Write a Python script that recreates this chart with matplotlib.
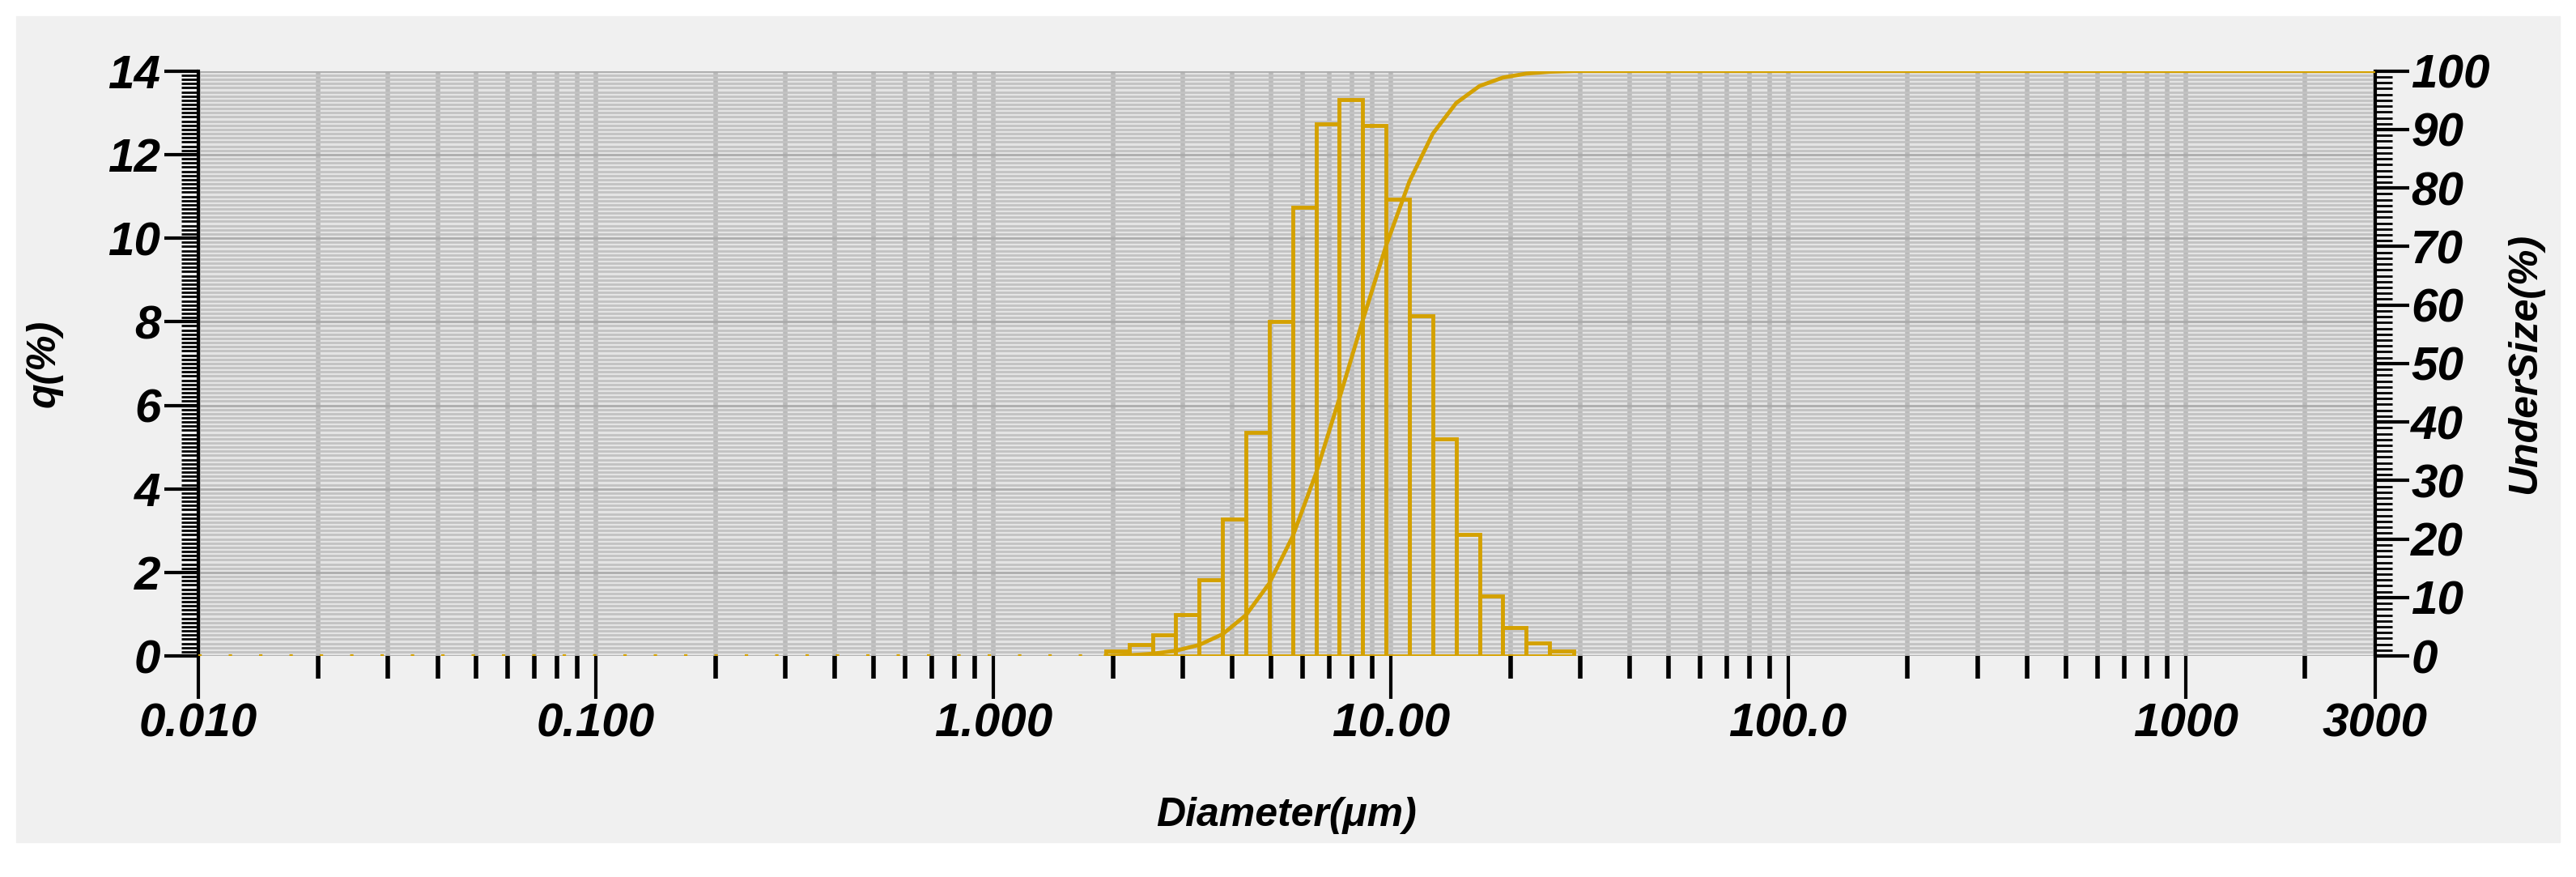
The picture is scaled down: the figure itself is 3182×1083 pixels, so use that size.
import numpy as np
import matplotlib.pyplot as plt
from matplotlib.patches import Rectangle
from matplotlib.ticker import FixedLocator, LogLocator, MultipleLocator, NullFormatter

plt.rcParams['font.family'] = ['Liberation Sans', 'DejaVu Sans']

# bin edges (um) and frequency q (%)
edges = [1.92, 2.20, 2.52, 2.88, 3.30, 3.78, 4.33, 4.95, 5.67, 6.49, 7.43,
         8.51, 9.74, 11.15, 12.77, 14.62, 16.74, 19.17, 21.95, 25.13, 28.9]
q = [0.12, 0.27, 0.51, 0.99, 1.83, 3.28, 5.36, 8.00, 10.73, 12.74, 13.31,
     12.70, 10.94, 8.14, 5.20, 2.90, 1.44, 0.68, 0.31, 0.12]
xticks = [0.01, 0.1, 1, 10, 100, 1000, 3000]
xlabels = ['0.010', '0.100', '1.000', '10.00', '100.0', '1000', '3000']

col = '#D4A100'
cum = np.concatenate([[0], np.cumsum(q)])
cum = cum / cum[-1] * 100

fig = plt.figure(figsize=(31.82, 10.83), dpi=100)
fig.patches.append(Rectangle((20 / 3182, 43 / 1083), 3142 / 3182, 1020 / 1083,
                             transform=fig.transFigure, color='#f0f0f0', zorder=-10))
ax = fig.add_axes([0.077, 0.252, 0.845, 0.667])
ax.set_facecolor('#e4e4e4')
ax.set_xscale('log')
ax.set_xlim(0.01, 3000)
ax.set_ylim(0, 14)

ax.yaxis.set_minor_locator(MultipleLocator(0.1))
ax.grid(True, which='minor', axis='y', color='#c2c2c2', lw=2)
ax.grid(True, which='major', axis='y', color='#acacac', lw=2)
ax.xaxis.set_minor_locator(LogLocator(base=10, subs=np.arange(2, 10)))
ax.grid(True, which='both', axis='x', color='#bababa', lw=4)
ax.set_axisbelow(True)

for i in range(len(q)):
    ax.add_patch(Rectangle((edges[i], 0), edges[i + 1] - edges[i], q[i],
                           fill=False, edgecolor=col, lw=3.5, zorder=3))
ax.plot([0.01, edges[0]], [0, 0], color=col, lw=3, ls=(0, (1, 8)), zorder=3)

ax.xaxis.set_major_locator(FixedLocator(xticks))
ax.set_xticklabels(xlabels)
ax.xaxis.set_minor_formatter(NullFormatter())
ax.set_yticks(range(0, 15, 2))
for s in ax.spines.values():
    s.set_visible(False)
ax.spines['left'].set_visible(True)
ax.spines['left'].set_linewidth(3)
ax.tick_params(axis='both', which='major', labelsize=42, width=3, length=30, direction='out')
ax.tick_params(axis='y', which='minor', width=2, length=15, direction='out')
ax.tick_params(axis='x', which='minor', width=4, length=20, direction='out')
ax.tick_params(axis='x', which='major', length=38)
for t in ax.get_xticklabels() + ax.get_yticklabels():
    t.set_fontweight('bold')
    t.set_fontstyle('italic')
ax.set_xlabel('Diameter(μm)', fontsize=36, fontweight='bold', fontstyle='italic', labelpad=45)
ax.set_ylabel('q(%)', fontsize=36, fontweight='bold', fontstyle='italic', labelpad=40)

ax2 = ax.twinx()
ax2.set_ylim(0, 100)
ax2.plot(edges + [3000], list(cum) + [100], color=col, lw=3.5, zorder=4)
ax2.set_yticks(range(0, 101, 10))
ax2.yaxis.set_minor_locator(MultipleLocator(1))
for s in ax2.spines.values():
    s.set_visible(False)
ax2.spines['right'].set_visible(True)
ax2.spines['right'].set_linewidth(3)
ax2.tick_params(axis='y', which='major', labelsize=42, width=3, length=30, pad=2)
ax2.tick_params(axis='y', which='minor', width=2, length=15)
for t in ax2.get_yticklabels():
    t.set_fontweight('bold')
    t.set_fontstyle('italic')
ax2.set_ylabel('UnderSize(%)', fontsize=36, fontweight='bold', fontstyle='italic', labelpad=15)

fig.savefig('out.png', dpi=100)
